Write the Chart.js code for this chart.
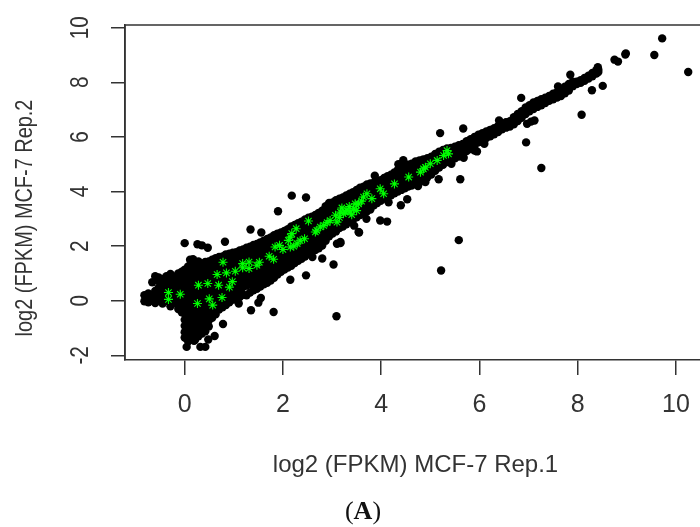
<!DOCTYPE html>
<html><head><meta charset="utf-8">
<script src="https://cdn.jsdelivr.net/npm/chart.js@4"></script>
<style>
html,body{margin:0;padding:0;background:#fff;width:700px;height:527px;overflow:hidden}
#wrap{position:relative;width:700px;height:527px}
#cap{position:absolute;left:0;top:496px;width:726px;text-align:center;font:26px "Liberation Serif",serif;color:#111;line-height:30px}
</style></head><body>
<div id="wrap"><canvas id="c" width="700" height="527"></canvas><div id="cap">(<b>A</b>)</div></div>
<script>
const xTitle = "log2 (FPKM) MCF-7 Rep.1";
const yTitle = "log2 (FPKM) MCF-7 Rep.2";
// Dense band: each row is [Rep.1 value, [Rep.2 values]]
const bandColumns = [
[-0.82,[-0.02,0.2]],[-0.74,[0.07,-0.06,0.27]],[-0.66,[0.0,0.2,0.68]],[-0.6,[-0.08,0.14,0.36,0.9]],
[-0.53,[0.02,0.25,0.48,0.72,0.85]],[-0.45,[-0.1,0.12,0.36,0.6,0.8]],[-0.37,[0.0,0.24,0.46,0.7,0.9]],[-0.29,[-0.2,0.08,0.33,0.56,0.8,0.98]],
[-0.21,[-0.08,0.18,0.42,0.66,0.88]],[-0.13,[-0.3,-0.02,0.26,0.52,0.76,1.0]],[-0.06,[-0.42,-0.14,0.12,0.38,0.62,0.86,1.06]],
[0.0,[-1.35,-1.15,-0.92,-0.7,-0.48,-0.24,0.02,0.26,0.5,0.74,0.96,1.14]],
[0.07,[-1.48,-1.24,-1.02,-0.8,-0.56,-0.34,-0.1,0.14,0.38,0.62,0.86,1.1,1.26]],
[0.14,[-1.36,-1.12,-0.9,-0.66,-0.44,-0.2,0.04,0.28,0.5,0.76,0.98,1.22,1.48]],
[0.21,[-1.44,-1.22,-1.0,-0.76,-0.54,-0.3,-0.06,0.18,0.42,0.66,0.9,1.12,1.3]],
[0.28,[-1.3,-1.08,-0.86,-0.64,-0.4,-0.16,0.08,0.32,0.56,0.78,1.02,1.26,1.44]],
[0.35,[-1.2,-0.98,-0.74,-0.5,-0.26,-0.02,0.22,0.46,0.7,0.94,1.16,1.36]],
[0.42,[-1.12,-0.86,-0.62,-0.38,-0.14,0.1,0.34,0.58,0.82,1.06,1.28,1.42]],
[0.49,[-0.94,-0.72,-0.48,-0.24,0.0,0.24,0.48,0.72,0.96,1.2,1.44]],
[0.56,[-0.62,-0.38,-0.14,0.12,0.36,0.6,0.84,1.08,1.3,1.5]],
[0.63,[-0.5,-0.26,0.0,0.24,0.48,0.72,0.96,1.2,1.42,1.56]],
[0.7,[-0.32,-0.1,0.14,0.38,0.62,0.86,1.1,1.34,1.6]],
[0.77,[-0.24,0.0,0.24,0.5,0.74,0.98,1.22,1.44,1.62]],
[0.84,[-0.16,0.1,0.34,0.58,0.82,1.06,1.3,1.52,1.7]],
[0.91,[-0.06,0.2,0.44,0.68,0.92,1.16,1.4,1.62,1.72]],
[0.98,[0.04,0.3,0.54,0.78,1.02,1.26,1.5,1.76]],
[1.05,[0.1,0.36,0.6,0.84,1.08,1.32,1.56,1.78]],
[1.12,[0.14,0.44,0.7,0.94,1.18,1.42,1.66,1.84]],
[1.19,[0.22,0.5,0.76,1.0,1.24,1.48,1.72,1.88]],
[1.26,[0.2,0.56,0.82,1.06,1.3,1.54,1.78,1.94]],
[1.33,[0.3,0.6,0.88,1.12,1.36,1.6,1.84,1.98]],
[1.4,[0.38,0.66,0.94,1.18,1.42,1.66,1.9,2.04]],
[1.47,[0.44,0.72,1.0,1.24,1.48,1.72,1.96,2.08]],
[1.54,[0.52,0.8,1.06,1.3,1.54,1.78,2.02,2.14]],
[1.61,[0.6,0.86,1.12,1.36,1.6,1.84,2.08,2.2]],
[1.68,[0.66,0.92,1.18,1.42,1.66,1.9,2.12,2.26]],
[1.75,[0.74,1.0,1.24,1.48,1.72,1.96,2.2,2.32]],
[1.82,[0.84,1.06,1.3,1.54,1.78,2.02,2.26,2.4]],
[1.89,[0.96,1.18,1.4,1.62,1.86,2.08,2.3,2.46]],
[1.96,[1.06,1.26,1.48,1.7,1.92,2.14,2.36,2.5]],
[2.03,[1.14,1.34,1.56,1.78,2.0,2.22,2.42,2.56]],
[2.1,[1.22,1.42,1.64,1.86,2.08,2.3,2.5,2.62]],
[2.17,[1.28,1.5,1.72,1.94,2.16,2.38,2.58,2.72]],
[2.24,[1.38,1.58,1.8,2.02,2.24,2.46,2.66,2.78]],
[2.31,[1.46,1.66,1.88,2.1,2.32,2.54,2.74,2.84]],
[2.38,[1.54,1.74,1.96,2.18,2.4,2.6,2.8,2.9]],
[2.45,[1.62,1.82,2.04,2.26,2.46,2.68,2.88,2.98]],
[2.52,[1.72,1.9,2.12,2.32,2.54,2.74,2.94,3.04]],
[2.59,[1.8,2.0,2.2,2.4,2.6,2.82,3.0,3.08]],
[2.66,[1.86,2.08,2.28,2.48,2.68,2.88,3.06,3.14]],
[2.73,[1.92,2.14,2.34,2.56,2.76,2.96,3.14,3.22]],
[2.8,[2.02,2.22,2.44,2.64,2.84,3.04,3.2,3.3]],
[2.87,[2.2,2.4,2.6,2.8,3.0,3.2,3.38,3.46]],
[2.94,[2.36,2.54,2.74,2.94,3.14,3.34,3.52,3.58]],
[3.01,[2.46,2.66,2.86,3.06,3.26,3.44,3.6]],
[3.08,[2.54,2.72,2.92,3.12,3.32,3.52,3.68]],
[3.15,[2.66,2.84,3.04,3.24,3.44,3.62,3.74]],
[3.22,[2.72,2.9,3.1,3.3,3.5,3.68,3.78]],
[3.29,[2.8,3.0,3.2,3.4,3.6,3.76,3.86]],
[3.36,[2.9,3.08,3.28,3.48,3.66,3.82,3.92]],
[3.43,[2.98,3.16,3.36,3.56,3.74,3.9,3.98]],
[3.5,[3.06,3.24,3.44,3.62,3.8,3.96,4.06]],
[3.57,[3.14,3.32,3.52,3.7,3.88,4.04,4.14]],
[3.64,[3.2,3.4,3.58,3.76,3.94,4.1,4.18]],
[3.71,[3.28,3.46,3.66,3.84,4.02,4.18,4.26]],
[3.78,[3.34,3.54,3.72,3.9,4.08,4.22,4.3]],
[3.85,[3.5,3.68,3.86,4.04,4.2,4.32]],
[3.92,[3.58,3.76,3.94,4.12,4.28,4.36]],
[3.99,[3.66,3.84,4.02,4.2,4.34,4.42]],
[4.06,[3.74,3.92,4.1,4.26,4.42,4.5]],
[4.13,[3.8,3.98,4.16,4.34,4.48,4.56]],
[4.2,[3.86,4.04,4.22,4.4,4.56,4.62]],
[4.27,[3.94,4.12,4.3,4.48,4.64,4.7]],
[4.34,[4.0,4.18,4.36,4.54,4.72,4.8]],
[4.41,[4.06,4.24,4.42,4.6,4.78,4.86]],
[4.48,[4.12,4.3,4.48,4.66,4.84,4.92]],
[4.55,[4.18,4.36,4.54,4.72,4.9,4.98]],
[4.62,[4.22,4.42,4.6,4.78,4.96,5.02]],
[4.7,[4.28,4.48,4.66,4.84,5.04,5.1]],
[4.78,[4.34,4.54,4.74,4.94,5.14]],
[4.86,[4.44,4.64,4.84,5.02,5.18]],
[4.94,[4.52,4.72,4.92,5.1,5.22]],
[5.02,[4.62,4.82,5.02,5.2,5.28]],
[5.1,[4.76,4.94,5.12,5.3,5.38]],
[5.18,[4.88,5.06,5.22,5.38,5.46]],
[5.26,[4.98,5.14,5.3,5.46,5.52]],
[5.34,[5.08,5.24,5.4,5.54,5.58]],
[5.42,[5.14,5.3,5.46,5.6]],
[5.5,[5.22,5.38,5.52,5.64]],
[5.58,[5.28,5.44,5.58,5.7]],
[5.66,[5.36,5.52,5.66,5.74]],
[5.74,[5.48,5.62,5.74,5.84]],
[5.82,[5.56,5.7,5.84,5.92]],
[5.9,[5.68,5.82,5.94,6.0]],
[5.98,[5.8,5.94,6.08]],
[6.06,[5.88,6.02,6.14]],
[6.14,[5.96,6.08,6.2]],
[6.22,[6.02,6.14,6.26]],
[6.3,[6.1,6.22,6.32]],
[6.38,[6.18,6.3,6.4]],
[6.46,[6.28,6.38,6.46]],
[6.54,[6.34,6.44,6.54]],
[6.62,[6.38,6.48,6.58]],
[6.7,[6.46,6.58,6.72]],
[6.78,[6.58,6.7,6.84]],
[6.86,[6.7,6.82,6.94]],
[6.94,[6.84,6.96,7.08]],
[7.02,[6.94,7.06,7.16]],
[7.1,[7.02,7.14,7.26]],
[7.18,[7.1,7.2,7.32]],
[7.26,[7.16,7.26,7.38]],
[7.34,[7.24,7.34,7.44]],
[7.42,[7.32,7.42,7.5]],
[7.5,[7.38,7.48,7.58]],
[7.58,[7.44,7.54,7.64]],
[7.66,[7.5,7.62,7.72]],
[7.74,[7.6,7.72,7.84]],
[7.82,[7.7,7.82,7.94]],
[7.9,[7.86,7.96,8.02]],
[7.98,[7.94,8.02]],
[8.06,[7.98,8.08]],
[8.14,[8.06,8.16]],
[8.22,[8.14,8.24]],
[8.3,[8.22,8.34]],
[8.38,[8.32,8.44]],
[8.42,[8.38,8.46]]
];
// Isolated points [Rep.1, Rep.2]
const outliers = [
[9.72,9.61],[9.56,9.0],[8.97,9.02],[8.98,9.06],[8.75,8.83],[8.82,8.76],[10.25,8.38],[8.51,7.87],[8.29,7.71],[8.08,6.81],
[8.41,8.55],[7.85,8.28],[6.85,7.43],[7.12,6.6],[7.05,6.56],[6.97,6.48],[6.95,5.8],[7.26,4.86],[5.67,6.31],[5.2,6.14],
[5.61,4.45],[5.17,4.45],[5.68,5.24],[5.95,5.47],[5.43,5.02],[4.53,3.72],[4.15,3.61],[3.87,4.58],[3.98,2.94],[4.12,2.9],
[3.55,2.5],[3.17,2.11],[5.58,2.22],[5.22,1.11],[3.09,-0.57],[2.18,3.85],[2.47,3.78],[1.9,3.28],[1.34,2.61],[1.56,2.5],
[0.82,2.16],[0.0,2.11],[0.26,2.07],[0.35,2.03],[0.47,1.94],[0.11,1.5],[0.17,1.52],[3.03,1.33],[2.47,0.93],[2.15,0.77],
[1.81,-0.41],[1.5,-0.07],[1.35,-0.35],[0.78,-0.85],[0.61,-1.29],[0.48,-1.42],[0.04,-1.69],[0.32,-1.69],[0.42,-1.69],
[0.19,-1.47],[0.01,-1.35],[3.1,2.09],[3.17,2.15],[3.54,2.52],[1.55,0.1],[4.4,3.5],[3.7,3.0],[2.8,1.55],[2.6,1.6],[1.1,-0.1],
[4.35,5.0],[4.45,5.15],[4.75,4.2],[3.45,2.75],[4.9,4.35],[5.9,5.5],[6.1,5.75],[6.4,6.6],[7.6,7.85]
];
// Green highlighted genes [Rep.1, Rep.2]
const highlighted = [
[-0.33,0.30],[-0.33,0.05],[-0.09,0.24],[0.26,-0.10],[0.50,0.07],[0.57,-0.16],[0.76,0.12],[0.28,0.57],[0.47,0.63],[0.69,0.57],
[0.91,0.50],[0.97,0.70],[0.66,0.96],[0.85,1.02],[1.03,1.08],[0.78,1.41],[1.18,1.36],[1.18,1.21],[1.31,1.42],[1.31,1.18],
[1.47,1.30],[1.52,1.41],[1.72,1.63],[1.81,1.52],[1.84,1.97],[1.93,2.03],[2.0,1.88],[2.15,1.97],[2.11,2.21],[2.29,2.09],
[2.44,2.27],[2.18,2.46],[2.27,2.64],[2.15,2.33],[2.52,2.92],[2.69,2.58],[2.76,2.70],[2.9,2.86],[2.66,2.52],[2.83,2.76],
[2.96,2.94],[3.1,2.88],[3.07,3.13],[3.17,3.25],[3.3,3.31],[3.44,3.37],[3.54,3.55],[3.23,3.19],[3.37,3.25],[3.27,3.25],
[3.47,3.55],[3.64,3.80],[3.71,3.92],[3.81,3.74],[3.98,4.10],[4.05,3.92],[4.27,4.28],[4.56,4.53],[4.80,4.71],[4.90,4.89],
[5.0,5.02],[5.14,5.14],[5.27,5.32],[5.34,5.50],[5.37,5.38],[4.86,4.83],
[3.2,3.4],[3.35,3.45],[3.4,3.15],[3.5,3.3],[2.35,2.2],[2.22,2.0],[3.6,3.65],[3.15,3.05]
];
const xTicks = [0,2,4,6,8,10];
const yTicks = [-2,0,2,4,6,8,10];

const blackData = [];
bandColumns.forEach(c => c[1].forEach(v => blackData.push({x:c[0], y:v})));
outliers.forEach(p => blackData.push({x:p[0], y:p[1]}));
const greenData = highlighted.map(p => ({x:p[0], y:p[1]}));

const axisColor = '#333';
const textColor = '#333';
const plainFont = '24px "Liberation Sans"';
const tickFont = '25px "Liberation Sans"';
const squeeze = 0.83; // the reference's rotated text is compressed along its length
const framePlugin = {id:'frame', afterDraw(ch){
  const a = ch.chartArea, g = ch.ctx, ys = ch.scales.y;
  g.save(); g.strokeStyle = axisColor; g.lineWidth = 1.5;
  g.beginPath(); g.moveTo(a.left,a.bottom); g.lineTo(a.left,a.top); g.lineTo(a.right,a.top); g.stroke();
  g.fillStyle = textColor; g.textAlign = 'center'; g.textBaseline = 'middle';
  g.font = plainFont; g.fillText(xTitle, 415.5, 465);
  const drawUp = (text, px, py, font) => {
    g.save(); g.translate(px, py); g.rotate(-Math.PI/2); g.scale(squeeze, 1);
    g.font = font; g.fillText(text, 0, 0); g.restore();
  };
  drawUp(yTitle, 25, 218, plainFont);
  yTicks.forEach(v => drawUp(String(v), 81, ys.getPixelForValue(v), tickFont));
  g.restore();
}};

new Chart(document.getElementById('c'), {
  type:'scatter',
  plugins:[framePlugin],
  data:{datasets:[
    {label:'Highlighted', data:greenData, order:0, pointStyle:'star', pointRadius:4.5, pointBorderColor:'#00ff00', pointBackgroundColor:'#00ff00', pointBorderWidth:1.1},
    {label:'Genes', data:blackData, order:1, pointStyle:'circle', pointRadius:4.2, pointBackgroundColor:'#000', pointBorderWidth:0}
  ]},
  options:{
    responsive:false, animation:false,
    layout:{autoPadding:false,padding:{top:25,left:0,right:0,bottom:0}},
    plugins:{legend:{display:false},title:{display:false},tooltip:{enabled:false}},
    scales:{
      x:{type:'linear',min:-1.215,max:10.49,
        afterFit(s){s.height=167;s.paddingLeft=0;s.paddingRight=0;},
        afterBuildTicks(s){s.ticks=xTicks.map(v=>({value:v}));},
        border:{display:true,color:axisColor,width:1.5},
        grid:{drawOnChartArea:false,drawTicks:true,tickLength:15,color:axisColor,lineWidth:1.5},
        ticks:{includeBounds:false,maxRotation:0,autoSkip:false,color:textColor,padding:15,font:{family:'"Liberation Sans"',size:25}},
        title:{display:false}
      },
      y:{type:'linear',min:-2.17,max:10.1,
        afterFit(s){s.width=125;s.paddingTop=0;s.paddingBottom=0;},
        afterBuildTicks(s){s.ticks=yTicks.map(v=>({value:v}));},
        border:{display:true,color:axisColor,width:1.5},
        grid:{drawOnChartArea:false,drawTicks:true,tickLength:14,color:axisColor,lineWidth:1.5},
        ticks:{display:false},
        title:{display:false}
      }
    }
  }
});
</script></body></html>
